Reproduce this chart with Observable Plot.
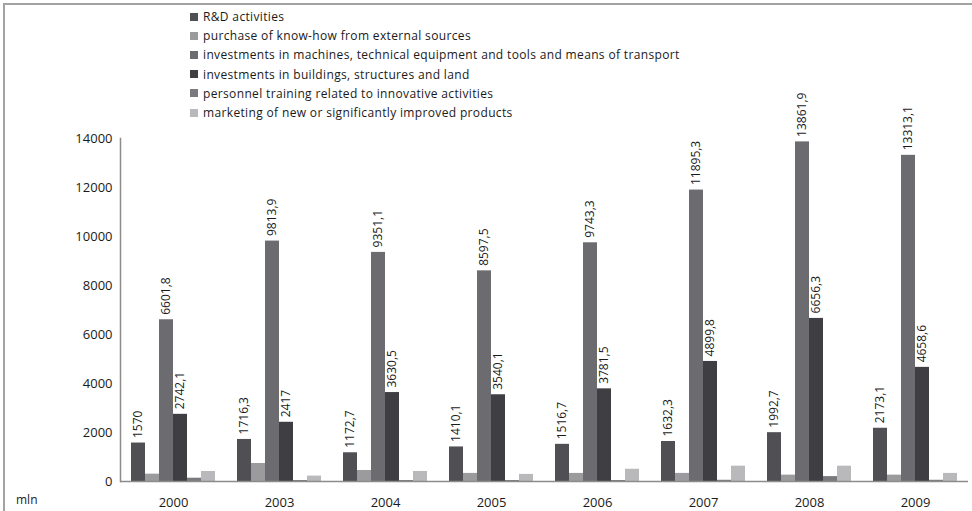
<!DOCTYPE html>
<html><head><meta charset="utf-8">
<script src="https://cdn.jsdelivr.net/npm/d3@7"></script>
<script src="https://cdn.jsdelivr.net/npm/@observablehq/plot@0.6"></script>
<style>
body{margin:0;background:#fff;font-family:"Open Sans",sans-serif;}
#wrap{position:relative;width:972px;height:511px;overflow:hidden;}
#border{position:absolute;left:3px;top:3px;width:980px;height:520px;border-top:2px solid #a3a3a3;border-left:2px solid #a3a3a3;}
#legend{position:absolute;left:190px;top:7px;font-size:12px;color:#1a1a1a;letter-spacing:0.35px;}
.li{height:19.2px;display:flex;align-items:center;white-space:nowrap;}
.sw{width:8px;height:8px;margin-right:5px;display:inline-block;}
#mln{position:absolute;left:16px;top:491px;font-size:12px;color:#1a1a1a;}
#chart{position:absolute;left:0;top:0;}
</style></head><body>
<div id="wrap"><div id="border"></div><div id="chart"></div><div id="legend"></div><div id="mln">mln</div></div>
<script>
const years = ["2000","2003","2004","2005","2006","2007","2008","2009"];
const seriesNames = [
  "R&D activities",
  "purchase of know-how from external sources",
  "investments in machines, technical equipment and tools and means of transport",
  "investments in buildings, structures and land",
  "personnel training related to innovative activities",
  "marketing of new or significantly improved products"
];
const seriesColors = ["#4f4f54","#9b9b9e","#6c6c70","#3f3f43","#7a7a7e","#b9b9bc"];
const rd        = [1570, 1716.3, 1172.7, 1410.1, 1516.7, 1632.3, 1992.7, 2173.1];
const knowhow   = [300, 735, 450, 330, 330, 330, 260, 260];
const machines  = [6601.8, 9813.9, 9351.1, 8597.5, 9743.3, 11895.3, 13861.9, 13313.1];
const buildings = [2742.1, 2417, 3630.5, 3540.1, 3781.5, 4899.8, 6656.3, 4658.6];
const training  = [135, 40, 40, 40, 40, 50, 200, 50];
const marketing = [410, 220, 410, 290, 500, 625, 625, 330];
const yTicks = [0, 2000, 4000, 6000, 8000, 10000, 12000, 14000];
const labeled = [seriesNames[0], seriesNames[2], seriesNames[3]];

const allSeries = [rd, knowhow, machines, buildings, training, marketing];
const data = [];
years.forEach((yr, i) => allSeries.forEach((arr, s) => data.push({year: yr, series: seriesNames[s], value: arr[i]})));
const fmt = v => String(v).replace(".", ",");

const chart = Plot.plot({
  width: 972, height: 511,
  marginLeft: 118, marginRight: 2, marginTop: 138, marginBottom: 30,
  style: {fontFamily: "'Open Sans', sans-serif", background: "transparent", color: "#1a1a1a"},
  fx: {domain: years, padding: 0, label: null},
  x: {domain: seriesNames, paddingInner: 0, paddingOuter: 0.67, axis: null},
  y: {domain: [0, 14000], axis: null},
  color: {domain: seriesNames, range: seriesColors},
  marks: [
    Plot.barY(data, {fx: "year", x: "series", y: "value", fill: "series"}),
    Plot.ruleY([0], {stroke: "#8c8c8c", strokeWidth: 1.5}),
    Plot.axisY({ticks: yTicks, tickSize: 0, tickPadding: 8, fontSize: 13, tickFormat: d => String(d), label: null}),
    Plot.frame({anchor: "left", facetAnchor: "left", stroke: "#8c8c8c", strokeWidth: 1.5}),
    Plot.axisFx({anchor: "bottom", tickSize: 0, tickPadding: 16, fontSize: 13, label: null}),
    Plot.text(data.filter(d => labeled.includes(d.series)), {
      fx: "year", x: "series", y: "value", text: d => fmt(d.value),
      rotate: -90, textAnchor: "start", dy: -5, fontSize: 12, fill: "#1a1a1a"
    })
  ]
});
document.getElementById("chart").appendChild(chart);

const lg = document.getElementById("legend");
seriesNames.forEach((n, i) => {
  const row = document.createElement("div"); row.className = "li";
  const sw = document.createElement("span"); sw.className = "sw"; sw.style.background = seriesColors[i];
  row.appendChild(sw); row.appendChild(document.createTextNode(n)); lg.appendChild(row);
});
</script></body></html>
